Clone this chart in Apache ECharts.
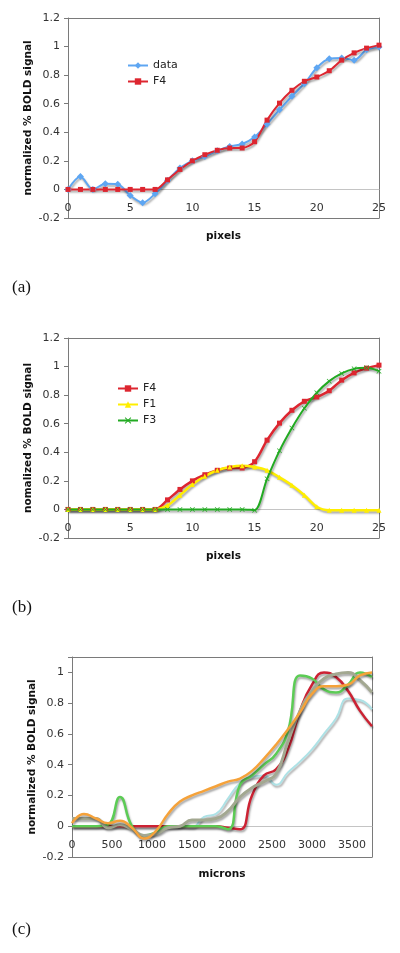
<!DOCTYPE html>
<html><head><meta charset="utf-8">
<script src="https://cdn.jsdelivr.net/npm/echarts@6/dist/echarts.min.js"></script>
<style>html,body{margin:0;padding:0;background:#fff}#c{width:400px;height:953px}</style>
</head><body><div id="c"></div>
<script>
// ---- panel (a) / (b): x positions in pixels ----
const pixelX = [0,1,2,3,4,5,6,7,8,9,10,11,12,13,14,15,16,17,18,19,20,21,22,23,24,25];
const dataA = [0,0.09,0,0.04,0.037,-0.042,-0.093,-0.03,0.063,0.15,0.2,0.23,0.27,0.3,0.318,0.367,0.457,0.557,0.652,0.74,0.852,0.915,0.92,0.905,0.977,0.997];
const f4 = [0,0,0,0,0,0,0,0,0.067,0.14,0.2,0.243,0.274,0.29,0.29,0.334,0.485,0.604,0.694,0.757,0.787,0.831,0.905,0.956,0.989,1.01];
const f1 = [0,0,0,0,0,0,0,0,0.028,0.1,0.174,0.232,0.274,0.297,0.306,0.297,0.274,0.225,0.17,0.1,0.019,-0.005,-0.005,-0.005,-0.005,-0.005];
const f3 = [0,0,0,0,0,0,0,0,0,0,0,0,0,0,0,-0.005,0.214,0.41,0.57,0.708,0.817,0.898,0.952,0.984,0.991,0.968];
// ---- panel (c): x positions in microns ----
const micronX = [0,150,300,450,600,750,900,1050,1200,1350,1500,1650,1800,1950,2100,2250,2400,2550,2700,2850,3000,3150,3300,3450,3600,3750];
const cGreen = [0,0,0,0.01,0.19,0,-0.06,-0.04,0,0,0,0,0,-0.02,0.27,0.33,0.4,0.47,0.62,0.98,0.96,0.89,0.87,0.92,1.0,0.97];
const cRed = [0,0,0,0,0,0,0,0,0,0,0,0,0,-0.01,-0.02,0.2,0.33,0.37,0.5,0.75,0.92,1.0,0.97,0.88,0.75,0.65];
const cOrange = [0.02,0.08,0.05,0.02,0.035,-0.01,-0.08,-0.03,0.08,0.16,0.2,0.23,0.26,0.29,0.31,0.36,0.44,0.53,0.63,0.74,0.86,0.91,0.91,0.92,0.98,1.0];
const cGray = [0.05,0.05,0.05,-0.01,0.01,-0.02,-0.06,-0.05,-0.01,0,0.04,0.04,0.05,0.1,0.19,0.25,0.29,0.34,0.55,0.75,0.88,0.96,0.99,1.0,0.95,0.87];
const cCyan = [0,0,0,0,0,0,0,0,0,0,-0.005,0.06,0.08,0.18,0.28,0.32,0.33,0.27,0.35,0.42,0.5,0.6,0.7,0.83,0.82,0.76];
// ---- ticks ----
const pixelTicks = {min:0, max:25, interval:5};
const boldTicksAB = {min:-0.2, max:1.2, interval:0.2};
const boldTicksC = {min:-0.2, max:1.1, interval:0.2};
const micronTicks = {min:0, max:3750, interval:500};

const pairs = (xs, ys) => xs.map((x, i) => [x, ys[i]]);
const FONT = 'DejaVu Sans';
const FRAME = '#7a7a7a';
const GRID_H = 200;
const shadow = {shadowColor:'rgba(0,0,0,0.35)', shadowBlur:2, shadowOffsetX:1, shadowOffsetY:2};
const xMark = 'path://M1,0L5,4L9,0L10,1L6,5L10,9L9,10L5,6L1,10L0,9L4,5L0,1Z';
// distance of the value-0 line above the bottom of the plot, from the y scale
const zeroLift = yt => -GRID_H * (0 - yt.min) / (yt.max - yt.min);

function yAx(gi, t, name) {
  return {type:'value', gridIndex:gi, position:'left', min:t.min, max:t.max, interval:t.interval,
    name:name, nameLocation:'middle', nameGap:34, nameMoveOverlap:false,
    nameTextStyle:{fontFamily:FONT, fontSize:10.5, fontWeight:'bold', color:'#111'},
    axisLine:{show:true, onZero:false, lineStyle:{color:FRAME}},
    axisTick:{show:true, length:4, lineStyle:{color:FRAME}},
    splitLine:{show:false},
    axisLabel:{fontFamily:FONT, fontSize:11, color:'#333', margin:8,
      formatter: v => (Math.abs(Math.round(v/t.interval)*t.interval - v) < 1e-6) ? String(Math.round(v*10)/10) : ''}};
}
function xAx(gi, t, yt, name, gap) {
  return {type:'value', gridIndex:gi, position:'bottom', offset:zeroLift(yt),
    min:t.min, max:t.max, interval:t.interval,
    name:name, nameLocation:'middle', nameGap:gap, nameMoveOverlap:false,
    nameTextStyle:{fontFamily:FONT, fontSize:10.5, fontWeight:'bold', color:'#111'},
    axisLine:{show:true, onZero:false, lineStyle:{color:'#c4c4c4'}},
    axisTick:{show:false}, splitLine:{show:false},
    axisLabel:{fontFamily:FONT, fontSize:11, color:'#333', margin:13,
      formatter: v => (v % t.interval === 0) ? String(v) : ''}};
}
function frameX(gi, t, pos) {
  return {type:'value', gridIndex:gi, position:pos, min:t.min, max:t.max,
    axisLine:{show:true, onZero:false, lineStyle:{color:FRAME}},
    axisTick:{show:false}, axisLabel:{show:false}, splitLine:{show:false}, z:1};
}
function frameY(gi, t) {
  return {type:'value', gridIndex:gi, position:'right', min:t.min, max:t.max,
    axisLine:{show:true, onZero:false, lineStyle:{color:FRAME}},
    axisTick:{show:false}, axisLabel:{show:false}, splitLine:{show:false}};
}
function mk(name, gi, xs, ys, color, opts) {
  return Object.assign({name:name, type:'line', xAxisIndex:gi, yAxisIndex:gi,
    data:pairs(xs, ys), smooth:0.3, color:color,
    lineStyle:Object.assign({width:2, color:color}, shadow),
    itemStyle:{color:color}, emphasis:{disabled:true}, animation:false}, opts||{});
}
function cLine(xs, ys, color, w) {
  return {type:'line', xAxisIndex:2, yAxisIndex:2, data:pairs(xs, ys), smooth:0.5,
    showSymbol:false, symbol:'none', color:color,
    lineStyle:Object.assign({width:w, color:color}, shadow), emphasis:{disabled:true}, animation:false};
}

const chart = echarts.init(document.getElementById('c'), null, {renderer:'canvas'});
chart.setOption({
  backgroundColor:'#fff',
  animation:false,
  grid:[
    {left:68, top:18, width:311, height:GRID_H},
    {left:68, top:338, width:311, height:GRID_H},
    {left:72, top:657, width:300, height:GRID_H}
  ],
  xAxis:[xAx(0, pixelTicks, boldTicksAB, 'pixels', 41), xAx(1, pixelTicks, boldTicksAB, 'pixels', 41), xAx(2, micronTicks, boldTicksC, 'microns', 43),
         frameX(0, pixelTicks, 'top'), frameX(1, pixelTicks, 'top'), frameX(2, micronTicks, 'top'),
         frameX(0, pixelTicks, 'bottom'), frameX(1, pixelTicks, 'bottom'), frameX(2, micronTicks, 'bottom')],
  yAxis:[yAx(0, boldTicksAB, 'normalized % BOLD signal'), yAx(1, boldTicksAB, 'nomalized % BOLD signal'), yAx(2, boldTicksC, 'normalized % BOLD signal'),
         frameY(0, boldTicksAB), frameY(1, boldTicksAB), frameY(2, boldTicksC)],
  legend:[
    {orient:'vertical', left:122, top:55, itemWidth:20, itemHeight:8, itemGap:5,
     textStyle:{fontFamily:FONT, fontSize:11, color:'#222'}, data:['data','F4']},
    {orient:'vertical', left:112, top:378, itemWidth:20, itemHeight:8, itemGap:5,
     textStyle:{fontFamily:FONT, fontSize:11, color:'#222'}, data:['F4 ','F1','F3']}
  ],
  series:[
    mk('data', 0, pixelX, dataA, '#5ea6f2', {symbol:'diamond', symbolSize:7}),
    mk('F4', 0, pixelX, f4, '#dd2630', {symbol:'rect', symbolSize:5}),
    mk('F4 ', 1, pixelX, f4, '#dd2630', {symbol:'rect', symbolSize:5, lineStyle:Object.assign({width:2.5, color:'#dd2630'}, shadow)}),
    mk('F1', 1, pixelX, f1, '#ffee00', {symbol:'triangle', symbolSize:5, lineStyle:Object.assign({width:2.5, color:'#ffee00'}, shadow)}),
    mk('F3', 1, pixelX, f3, '#22aa22', {symbol:xMark, symbolSize:5}),
    cLine(micronX, cCyan, '#aee2e6', 2),
    cLine(micronX, cRed, '#cc2233', 2.5),
    cLine(micronX, cGreen, '#5ccc55', 2.5),
    cLine(micronX, cGray, '#a3a891', 3),
    cLine(micronX, cOrange, '#f5a23a', 2.5)
  ],
  graphic:[
    {type:'text', left:12, top:279, style:{text:'(a)', font:'17px "Liberation Serif"', fill:'#111'}},
    {type:'text', left:12, top:599, style:{text:'(b)', font:'17px "Liberation Serif"', fill:'#111'}},
    {type:'text', left:12, top:921, style:{text:'(c)', font:'17px "Liberation Serif"', fill:'#111'}}
  ]
});
</script></body></html>
